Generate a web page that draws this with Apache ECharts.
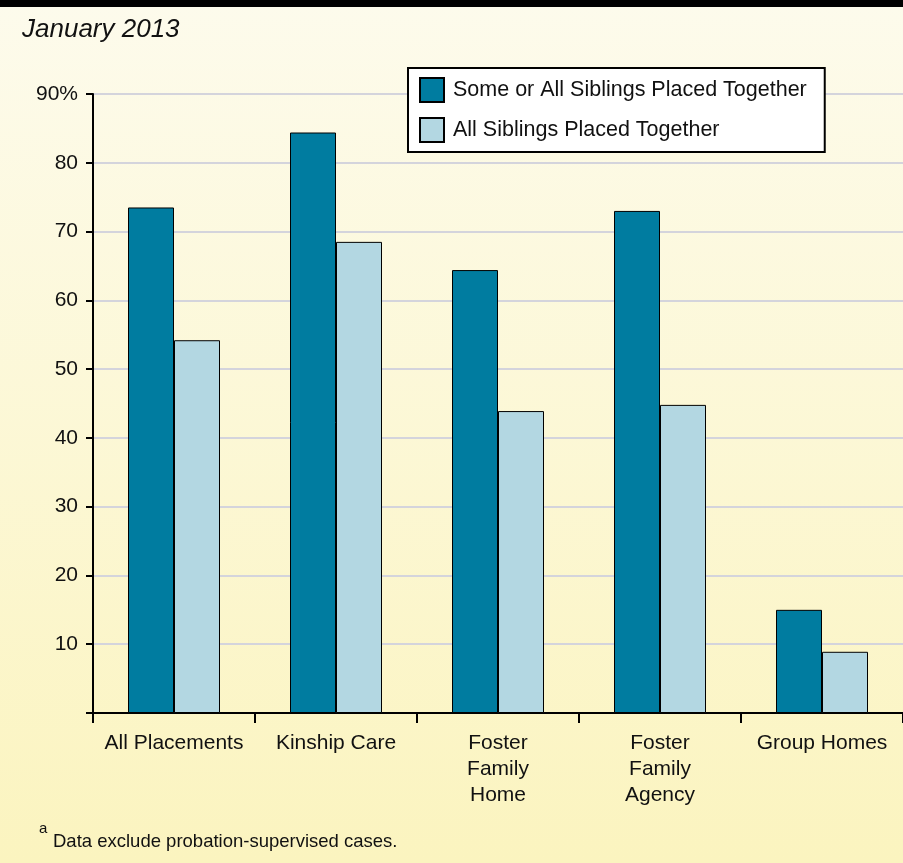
<!DOCTYPE html>
<html>
<head>
<meta charset="utf-8">
<script src="https://cdn.jsdelivr.net/npm/echarts@6/dist/echarts.min.js"></script>
<style>
  html, body { margin: 0; padding: 0; }
  #chart { width: 903px; height: 863px; }
</style>
</head>
<body>
<div id="chart"></div>
<script>
const categories = ['All Placements', 'Kinship Care', 'Foster\nFamily\nHome', 'Foster\nFamily\nAgency', 'Group Homes']
const someOrAll = [73.5, 84.4, 64.4, 73.0, 15.0]
const allTogether = [54.2, 68.5, 43.9, 44.8, 8.9]
const seriesNames = ['Some or All Siblings Placed Together', 'All Siblings Placed Together']
const yTicks = [0, 10, 20, 30, 40, 50, 60, 70, 80, 90]

const font = '"Liberation Sans", Arial, Helvetica, sans-serif'
const chart = echarts.init(document.getElementById('chart'))

const option = {
  backgroundColor: new echarts.graphic.LinearGradient(0, 0, 0, 1, [
    { offset: 0, color: '#fdfbec' },
    { offset: 1, color: '#fbf4bf' }
  ]),
  animation: false,
  textStyle: { fontFamily: font },
  graphic: [
    // black band along the top
    { type: 'rect', left: 0, top: 0, shape: { width: 903, height: 7 }, style: { fill: '#000' } },
    {
      type: 'text', left: 22, top: 17,
      style: { text: 'January 2013', font: 'italic 26px ' + font, fill: '#111' }
    },
    {
      type: 'text', left: 39, top: 821,
      style: { text: 'a', font: '15px ' + font, fill: '#111' }
    },
    {
      type: 'text', left: 53, top: 832,
      style: { text: 'Data exclude probation-supervised cases.', font: '18.5px ' + font, fill: '#111' }
    }
  ],
  legend: {
    orient: 'vertical',
    left: 408,
    top: 68,
    data: seriesNames,
    backgroundColor: '#fff',
    borderColor: '#000',
    borderWidth: 2,
    borderRadius: 0,
    padding: [9, 18, 9, 11],
    itemWidth: 24,
    itemHeight: 24,
    itemGap: 14,
    icon: 'rect',
    itemStyle: { borderColor: '#000', borderWidth: 2 },
    textStyle: { fontSize: 21.5, color: '#111', padding: [3, 0, 0, 4] }
  },
  grid: {
    left: 93,
    right: 0,
    top: 94,
    bottom: 150,
    containLabel: false,
    outerBoundsMode: 'none'
  },
  xAxis: {
    type: 'category',
    data: categories,
    axisLine: { lineStyle: { color: '#000', width: 2 } },
    axisTick: { show: true, length: 10, lineStyle: { color: '#000', width: 2 } },
    axisLabel: {
      color: '#111',
      fontSize: 21,
      lineHeight: 26,
      margin: 17,
      interval: 0,
      align: 'center'
    }
  },
  yAxis: {
    type: 'value',
    min: yTicks[0],
    max: yTicks[yTicks.length - 1],
    interval: 10,
    axisLine: { show: true, lineStyle: { color: '#000', width: 2 } },
    axisTick: { show: true, length: 7, lineStyle: { color: '#000', width: 2 } },
    axisLabel: {
      color: '#111',
      fontSize: 21,
      margin: 15,
      formatter: function (v) {
        if (v === 0) return ''
        if (v === 90) return '90%'
        return String(v)
      }
    },
    splitLine: { show: true, lineStyle: { color: '#d4d4dc', width: 2 } }
  },
  series: [
    {
      name: seriesNames[0],
      type: 'bar',
      data: someOrAll,
      barWidth: 46,
      barGap: '0%',
      itemStyle: { color: '#007ca0', borderColor: '#000', borderWidth: 1 }
    },
    {
      name: seriesNames[1],
      type: 'bar',
      data: allTogether,
      barWidth: 46,
      barGap: '0%',
      itemStyle: { color: '#b3d7e2', borderColor: '#000', borderWidth: 1 }
    }
  ]
}

chart.setOption(option)
</script>
</body>
</html>
